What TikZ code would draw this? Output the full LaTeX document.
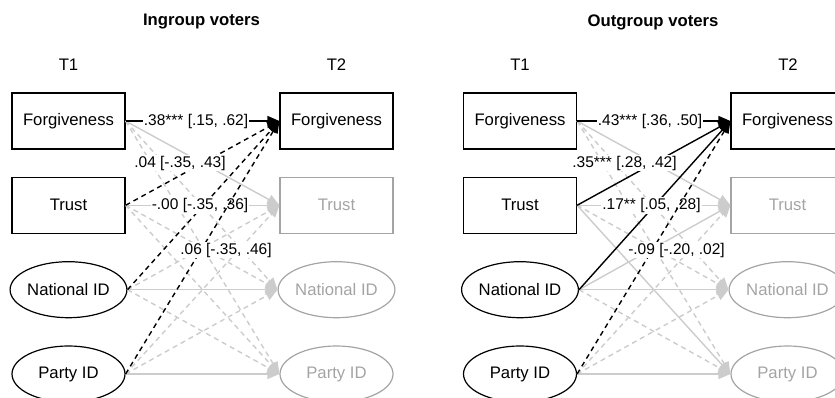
\documentclass[tikz,border=0pt]{standalone}
\usepackage{fontspec}
\setmainfont{Liberation Sans}
\usetikzlibrary{arrows.meta,shapes.geometric}
\definecolor{edgegray}{HTML}{CCCCCC}
\definecolor{nodegray}{HTML}{A4A4A4}
\newcommand\nodefnt{\fontsize{16.7}{18}\selectfont}
\newcommand\lblfnt{\fontsize{15.5}{17}\selectfont}
\newcommand\titlefnt{\fontsize{16.7}{18}\selectfont\bfseries}
\begin{document}
\begin{tikzpicture}[x=1pt,y=-1pt,
  t1box/.style={draw=black, line width=1.2pt, minimum width=113pt, minimum height=56pt, inner sep=0pt, font=\nodefnt},
  t2box/.style={t1box, draw=nodegray, text=nodegray},
  t1ell/.style={t1box, ellipse},
  t2ell/.style={t2box, ellipse},
  head/.style={font=\nodefnt},
  ttl/.style={font=\titlefnt},
  tip/.style={-{Triangle[length=12pt,width=10pt]}},
  gline/.style={draw=edgegray, line width=1.4pt, tip},
  gdash/.style={gline, dash pattern=on 5pt off 4pt},
  bline/.style={draw=black, line width=1.4pt, tip},
  bdash/.style={bline, dash pattern=on 5pt off 4pt},
  lbl/.style={fill=white, inner sep=1pt, font=\lblfnt}]
\useasboundingbox (0,0) rectangle (835,398);
\clip (0,0) rectangle (835,398);

% ---------------- left panel ----------------
\node[ttl] (Ltitle) at (201.5,22) {Ingroup voters};
\node[head] (LH1) at (68.5,65) {T1};
\node[head] (LH2) at (336.5,65) {T2};

\node[t1box] (LF1) at (68.5,121) {Forgiveness};
\node[t1box] (LT1) at (68.5,205.3) {Trust};
\node[t1ell] (LN1) at (68.5,289.7) {National ID};
\node[t1ell] (LP1) at (68.5,374) {Party ID};
\node[t1box] (LF2) at (336.5,121) {Forgiveness};
\node[t2box] (LT2) at (336.5,205.3) {Trust};
\node[t2ell] (LN2) at (336.5,289.7) {National ID};
\node[t2ell] (LP2) at (336.5,374) {Party ID};

\draw[gline] (LF1.east) -- (LT2.west);
\draw[gdash] (LF1.east) -- (LN2.west);
\draw[gdash] (LF1.east) -- (LP2.west);
\draw[gline] (LT1.east) -- (LT2.west);
\draw[gdash] (LT1.east) -- (LN2.west);
\draw[gdash] (LT1.east) -- (LP2.west);
\draw[gdash] (LN1.east) -- (LT2.west);
\draw[gline] (LN1.east) -- (LN2.west);
\draw[gdash] (LN1.east) -- (LP2.west);
\draw[gdash] (LP1.east) -- (LT2.west);
\draw[gdash] (LP1.east) -- (LN2.west);
\draw[gline] (LP1.east) -- (LP2.west);

\draw[bline] (LF1.east) -- (LF2.west);
\node[lbl] (Lla) at (196,121) {.38*** [.15, .62]};
\draw[bdash] (LT1.east) -- (LF2.west);
\node[lbl] (Llb) at (180,163) {.04 [-.35, .43]};
\draw[bdash] (LN1.east) -- (LF2.west);
\node[lbl] (Llc) at (200,205.3) {-.00 [-.35, .36]};
\draw[bdash] (LP1.east) -- (LF2.west);
\node[lbl] (Lld) at (226,250) {.06 [-.35, .46]};

% ---------------- right panel ----------------
\node[ttl] (Rtitle) at (653,22) {Outgroup voters};
\node[head] (RH1) at (520,65) {T1};
\node[head] (RH2) at (788,65) {T2};

\node[t1box] (RF1) at (520,121) {Forgiveness};
\node[t1box] (RT1) at (520,205.3) {Trust};
\node[t1ell] (RN1) at (520,289.7) {National ID};
\node[t1ell] (RP1) at (520,374) {Party ID};
\node[t1box] (RF2) at (787.5,121) {Forgiveness};
\node[t2box] (RT2) at (787.5,205.3) {Trust};
\node[t2ell] (RN2) at (787.5,289.7) {National ID};
\node[t2ell] (RP2) at (787.5,374) {Party ID};

\draw[gline] (RF1.east) -- (RT2.west);
\draw[gdash] (RF1.east) -- (RN2.west);
\draw[gdash] (RF1.east) -- (RP2.west);
\draw[gline] (RT1.east) -- (RT2.west);
\draw[gdash] (RT1.east) -- (RN2.west);
\draw[gline] (RT1.east) -- (RP2.west);
\draw[gline] (RN1.east) -- (RT2.west);
\draw[gline] (RN1.east) -- (RN2.west);
\draw[gdash] (RN1.east) -- (RP2.west);
\draw[gdash] (RP1.east) -- (RT2.west);
\draw[gdash] (RP1.east) -- (RN2.west);
\draw[gline] (RP1.east) -- (RP2.west);

\draw[bline] (RF1.east) -- (RF2.west);
\node[lbl] (Rla) at (650,121) {.43*** [.36, .50]};
\draw[bline] (RT1.east) -- (RF2.west);
\node[lbl] (Rlb) at (624.5,163) {.35*** [.28, .42]};
\draw[bline] (RN1.east) -- (RF2.west);
\node[lbl] (Rlc) at (651.5,205.3) {.17** [.05, .28]};
\draw[bdash] (RP1.east) -- (RF2.west);
\node[lbl] (Rld) at (676.5,250) {-.09 [-.20, .02]};
\end{tikzpicture}
\end{document}
